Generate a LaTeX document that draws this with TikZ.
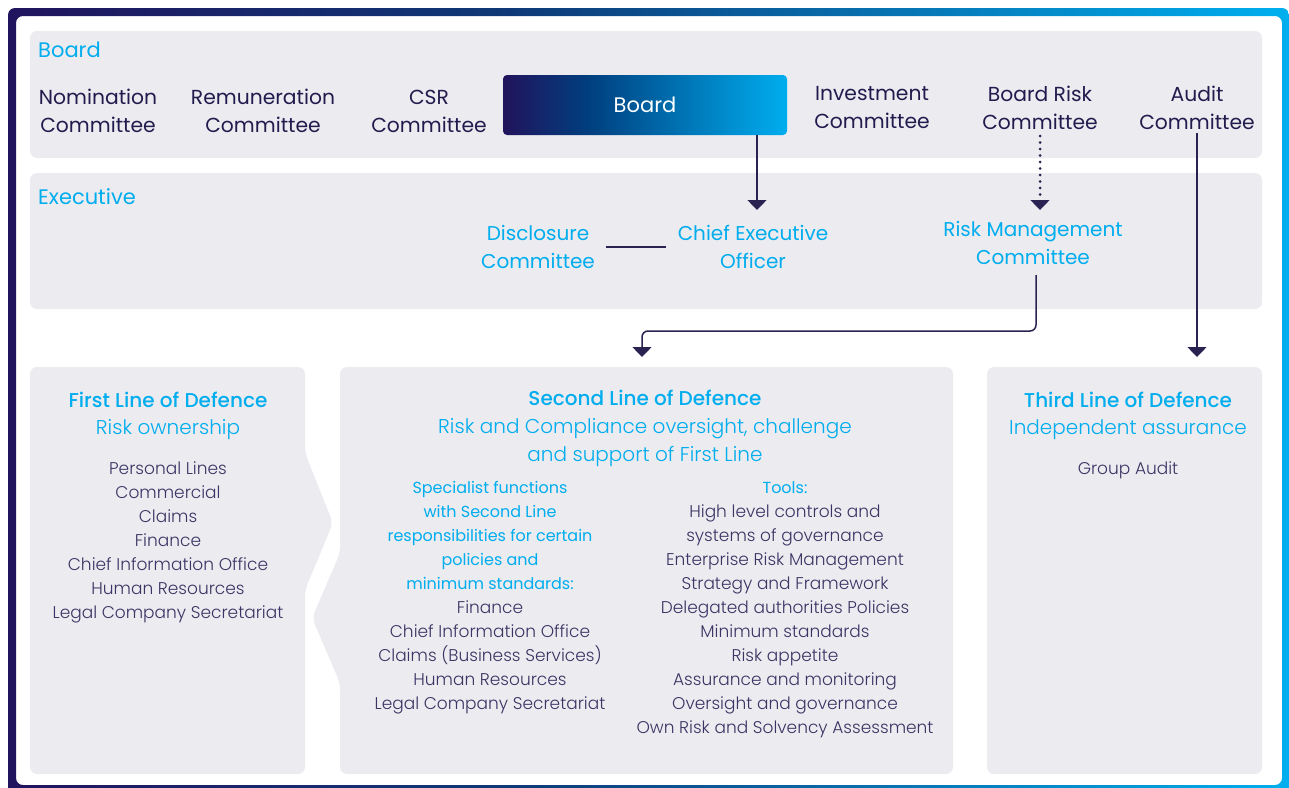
\documentclass[tikz,border=0pt]{standalone}
\usepackage{fontspec}
\setmainfont{Poppins}
\newfontfamily\lightfont{Poppins Light}
\newfontfamily\medfont{Poppins Medium}
\usetikzlibrary{arrows.meta}
\definecolor{cyanT}{HTML}{00ADEE}
\definecolor{darkT}{HTML}{221C4E}
\definecolor{listT}{HTML}{3A3564}
\definecolor{panelG}{HTML}{ECEBF0}
\definecolor{lineC}{HTML}{2A2352}
\definecolor{gA}{HTML}{22135C}
\definecolor{gB}{HTML}{003F7F}
\definecolor{gC}{HTML}{00AEEF}
\definecolor{fA}{HTML}{21145E}
\definecolor{fB}{HTML}{0E3A78}
\definecolor{fC}{HTML}{00AFEF}
\pgfdeclarehorizontalshading{boardgrad}{100bp}{color(0bp)=(gA); color(25bp)=(gA); color(40bp)=(gB); color(75bp)=(gC); color(100bp)=(gC)}
\pgfdeclarehorizontalshading{framegrad}{100bp}{color(0bp)=(fA); color(25bp)=(fA); color(45bp)=(fB); color(75bp)=(fC); color(100bp)=(fC)}
\begin{document}
\begin{tikzpicture}[x=1pt,y=-1pt,
  panel/.style={fill=panelG, rounded corners=7pt},
  comm/.style={align=center, inner sep=0pt, text=darkT, font=\fontsize{20.3}{28}\selectfont},
  seclbl/.style={anchor=west, inner sep=0pt, text=cyanT, font=\fontsize{21}{28}\selectfont},
  exec/.style={align=center, inner sep=0pt, text=cyanT, font=\fontsize{20}{28}\selectfont},
  head/.style={align=center, inner sep=0pt, text=cyanT, font=\medfont\fontsize{20}{28}\selectfont},
  subhead/.style={align=center, inner sep=0pt, text=cyanT, font=\lightfont\fontsize{20}{28}\selectfont},
  listtxt/.style={align=center, inner sep=0pt, text=listT, font=\lightfont\fontsize{17}{24}\selectfont},
  conn/.style={draw=lineC, line width=1.5pt},
  arr/.style={conn, -{Triangle[width=19pt,length=10pt]}},
]
\useasboundingbox (0,0) rectangle (1289,787);
% outer frame
\shade[shading=framegrad, even odd rule] [rounded corners=7pt] (8,8) rectangle (1289,797) (16,16) rectangle (1282,785);
% panels
\fill[panel] (30,31) rectangle (1262,158);
\fill[panel] (30,173) rectangle (1262,309);
\fill[panel] (30,774) -- (30,367) -- (305,367) -- (305,453) -- (333,523) -- (305,590) -- (305,774) -- cycle;
\fill[panel] (340,367) -- (953,367) -- (953,774) -- (340,774) -- (340,683) -- (312,618) -- (340,553) -- cycle;
\fill[panel] (987,367) rectangle (1262,774);
% board row
\node[seclbl] (boardlbl) at (38,50) {Board};
\node[comm] (nom) at (98,111) {Nomination\\Committee};
\node[comm] (rem) at (263,111) {Remuneration\\Committee};
\node[comm] (csr) at (429,111) {CSR\\Committee};
\node[shading=boardgrad, rounded corners=4pt, minimum width=284pt, minimum height=60pt, inner sep=0pt, text=white, font=\fontsize{21}{28}\selectfont] (board) at (645,105) {Board};
\node[comm] (inv) at (872,108) {Investment\\Committee};
\node[comm] (brc) at (1040,108) {Board Risk\\Committee};
\node[comm] (aud) at (1197,108) {Audit\\Committee};
% executive row
\node[seclbl] (execlbl) at (38,197) {Executive};
\node[exec] (disc) at (538,247) {Disclosure\\Committee};
\node[exec] (ceo) at (753,247) {Chief Executive\\Officer};
\node[exec] (rmc) at (1033,243) {Risk Management\\Committee};
% lines of defence
\node[head] (fl1) at (168,400) {First Line of Defence};
\node[subhead] (fl2) at (168,430) {Risk ownership};
\node[listtxt] (fllist) at (168,542) {Personal Lines\\Commercial\\Claims\\Finance\\Chief Information Office\\Human Resources\\Legal Company Secretariat};
\node[head] (sl1) at (645,398) {Second Line of Defence};
\node[subhead] (sl2) at (645,443) {Risk and Compliance oversight, challenge\\and support of First Line};
\node[listtxt] (spec) at (490,598) {\textcolor{cyanT}{\fontspec{Poppins}\fontsize{16}{24}\selectfont Specialist functions}\\\textcolor{cyanT}{\fontspec{Poppins}\fontsize{16}{24}\selectfont with Second Line}\\\textcolor{cyanT}{\fontspec{Poppins}\fontsize{16}{24}\selectfont responsibilities for certain}\\\textcolor{cyanT}{\fontspec{Poppins}\fontsize{16}{24}\selectfont policies and}\\\textcolor{cyanT}{\fontspec{Poppins}\fontsize{16}{24}\selectfont minimum standards:}\\Finance\\Chief Information Office\\Claims (Business Services)\\Human Resources\\Legal Company Secretariat};
\node[listtxt] (tools) at (785,610) {\textcolor{cyanT}{\fontspec{Poppins}\fontsize{16}{24}\selectfont Tools:}\\High level controls and\\systems of governance\\Enterprise Risk Management\\Strategy and Framework\\Delegated authorities Policies\\Minimum standards\\Risk appetite\\Assurance and monitoring\\Oversight and governance\\Own Risk and Solvency Assessment};
\node[head] (tl1) at (1128,400) {Third Line of Defence};
\node[subhead] (tl2) at (1128,430) {Independent assurance};
\node[listtxt] (tl3) at (1128,470) {Group Audit};
% connector endpoints
\coordinate (ceotip) at (757,210);
\coordinate (rmctip) at (1040,210);
\coordinate (rmcpre) at (1040,200);
\coordinate (brcbot) at (1040,136);
\coordinate (rmcbot) at (1036,275);
\coordinate (sltip) at (642,357);
\coordinate (tltip) at (1197,357);
% connectors
\draw[arr] (board.south -| ceotip) -- (ceotip);
\draw[conn, shorten <=11pt, shorten >=12pt] (disc.east) -- (ceo.west);
\draw[draw=lineC, line width=3pt, line cap=round, dash pattern=on 0pt off 6.5pt] (brc.south |- brcbot) -- (rmcpre);
\draw[conn, -{Triangle[width=19pt,length=10pt]}] (rmcpre) -- (rmctip);
\draw[arr, rounded corners=6pt] (rmcbot) |- (sltip |- 0,331) -- (sltip);
\draw[arr] (aud.south |- 0,133) -- (tltip);
\end{tikzpicture}
\end{document}
